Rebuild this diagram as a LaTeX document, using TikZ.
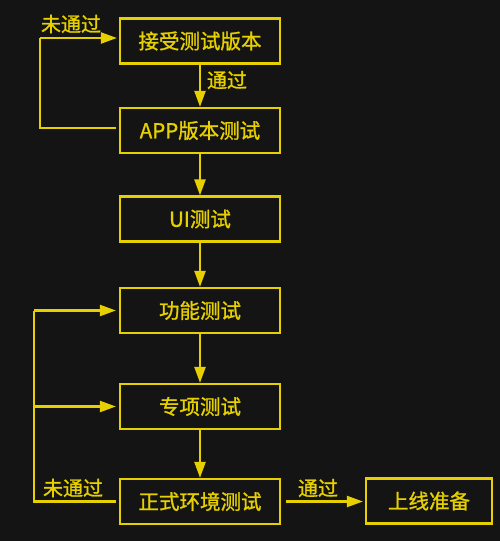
\documentclass[tikz,border=0pt]{standalone}
\usepackage{fontspec}
\setmainfont{Noto Sans CJK SC}
\newfontfamily\medfont{Noto Sans CJK SC}[FakeBold=1.2]
\usetikzlibrary{arrows.meta}
\definecolor{bg}{HTML}{141414}
\definecolor{yel}{HTML}{E6D000}
\begin{document}
\begin{tikzpicture}[x=1pt,y=-1pt,
  box/.style={draw=yel,line width=2.2pt,minimum width=160pt,minimum height=45pt,inner sep=0pt,text=yel,font=\medfont\fontsize{20.5}{20.5}\selectfont},
  lbl/.style={text=yel,font=\medfont\fontsize{20}{20}\selectfont,inner sep=0pt},
  conn/.style={draw=yel,line width=2.2pt},
  arr/.style={conn,-{Triangle[length=16pt,width=11pt]}}]
\fill[bg] (0,0) rectangle (500,541);
\useasboundingbox (0,0) rectangle (500,541);
\node[box] (b1) at (200,41) {接受测试版本};
\node[box] (b2) at (200,130.5) {APP版本测试};
\node[box] (b3) at (200,219) {UI测试};
\node[box] (b4) at (200,310.5) {功能测试};
\node[box] (b5) at (200,406.5) {专项测试};
\node[box] (b6) at (200,501.5) {正式环境测试};
\node[box,minimum width=126pt] (b7) at (429,501) {上线准备};
\coordinate (t1) at (40,128);
\coordinate (t2) at (40,38);
\draw[conn] ([xshift=-3pt]b2.west |- t1) -- (t1) -- (t2);
\draw[arr] (t2) -- ([xshift=-2pt]b1.west |- t2);
\draw[arr] (b1) -- (b2);
\draw[arr] (b2) -- (b3);
\draw[arr] (b3) -- (b4);
\draw[arr] (b4) -- (b5);
\draw[arr] (b5) -- (b6);
\coordinate (u1) at (34,501.5);
\coordinate (u2) at (34,310.5);
\coordinate (u3) at (34,406.5);
\draw[conn] ([xshift=-3pt]b6.west) -- (u1) -- (u2);
\draw[arr] (u2) -- ([xshift=-3pt]b4.west);
\draw[arr] (u3) -- ([xshift=-3pt]b5.west);
\draw[arr] ([xshift=5pt]b6.east) -- ([xshift=-2pt]b7.west |- b6.east);
\node[lbl] (l1) at (71,24) {未通过};
\node[lbl] (l2) at (227,80) {通过};
\node[lbl] (l3) at (73,488) {未通过};
\node[lbl] (l4) at (318,488) {通过};
\end{tikzpicture}
\end{document}
